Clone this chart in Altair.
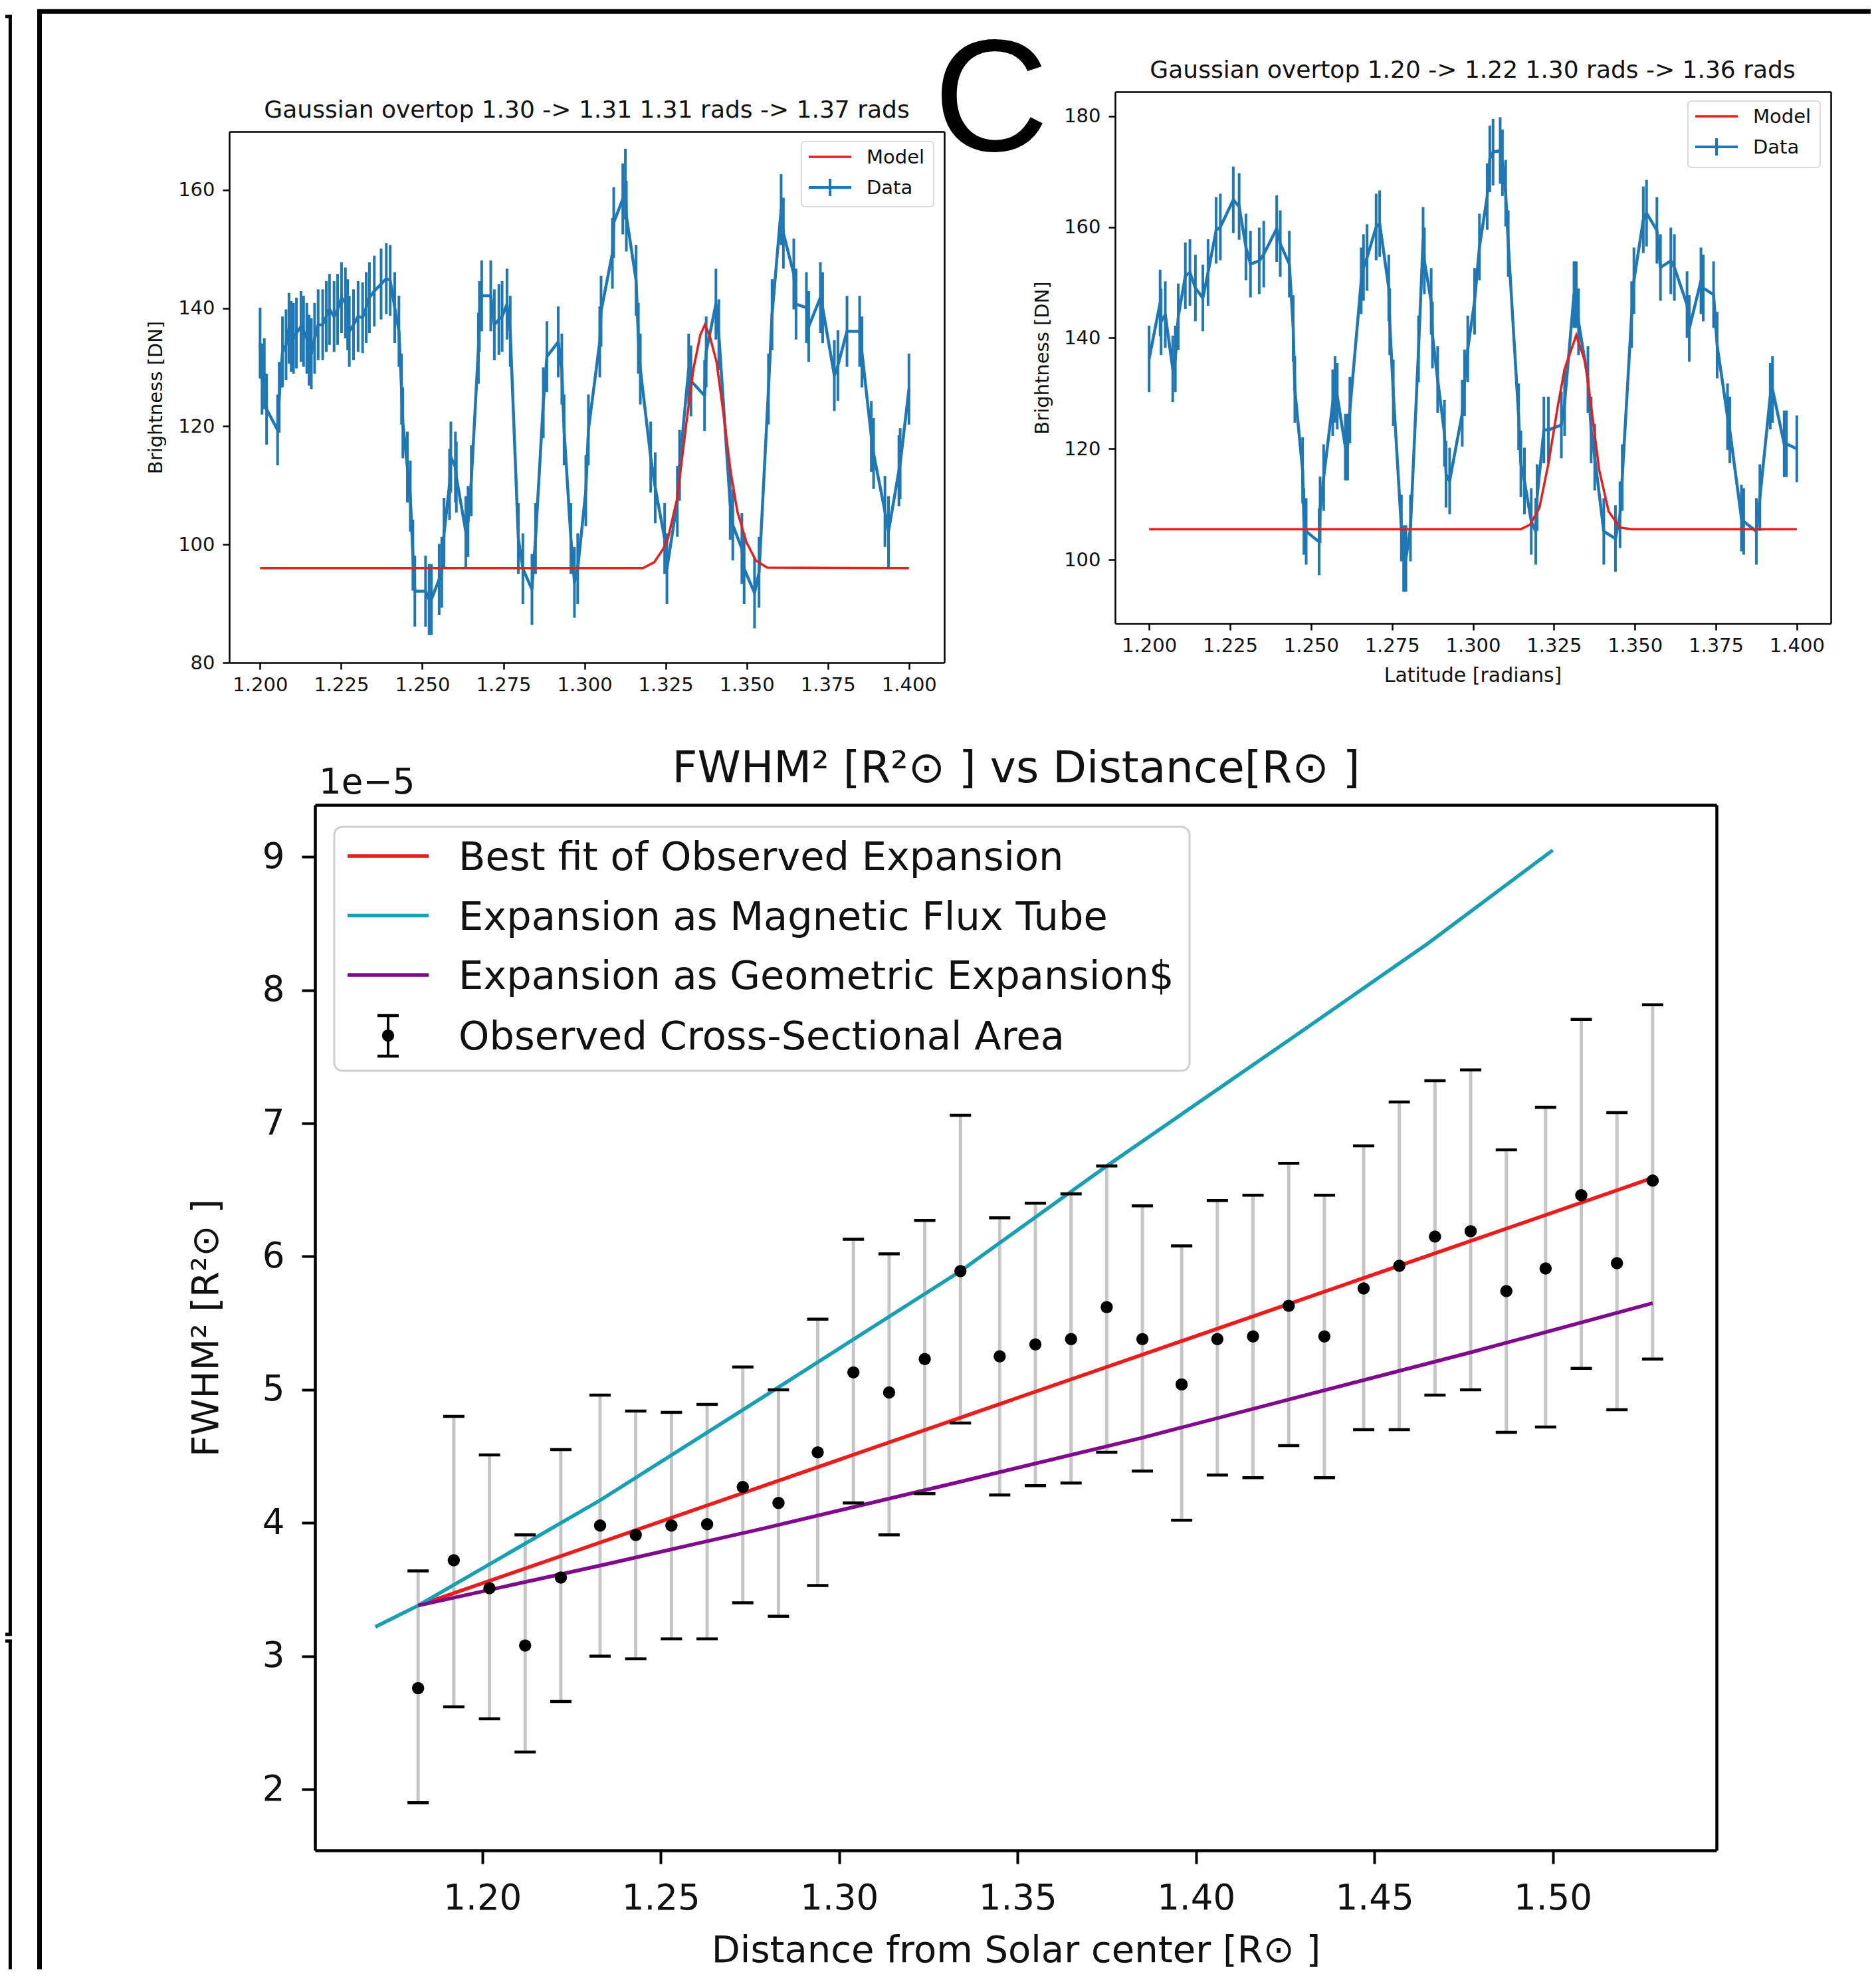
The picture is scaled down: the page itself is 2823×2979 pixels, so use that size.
import altair as alt
import pandas as pd

FONT = "DejaVu Sans"
BLUE = "#1f77b4"
RED = "#ea1c1c"
CYAN = "#179fb4"
PURPLE = "#800a8c"
GRAY = "#c6c6c6"
TXT = "#111111"

# ---------------- main panel: FWHM^2 (units of 1e-5 R_sun^2) vs distance ----------------
radius = [1.182, 1.192, 1.202, 1.212, 1.222, 1.233, 1.243, 1.253, 1.263, 1.273,
          1.283, 1.294, 1.304, 1.314, 1.324, 1.334, 1.345, 1.355, 1.365, 1.375,
          1.385, 1.396, 1.406, 1.416, 1.426, 1.436, 1.447, 1.457, 1.467, 1.477,
          1.487, 1.498, 1.508, 1.518, 1.528]
area = [2.76, 3.72, 3.51, 3.08, 3.59, 3.98, 3.91, 3.98, 3.99, 4.27,
        4.15, 4.53, 5.13, 4.98, 5.23, 5.89, 5.25, 5.34, 5.38, 5.62,
        5.38, 5.04, 5.38, 5.40, 5.63, 5.40, 5.76, 5.93, 6.15, 6.19,
        5.74, 5.91, 6.46, 5.95, 6.57]
area_hi = [3.64, 4.80, 4.51, 3.91, 4.55, 4.96, 4.84, 4.83, 4.89, 5.17,
           5.00, 5.53, 6.13, 6.02, 6.27, 7.06, 6.29, 6.40, 6.47, 6.68,
           6.38, 6.08, 6.42, 6.46, 6.70, 6.46, 6.83, 7.16, 7.32, 7.40,
           6.80, 7.12, 7.78, 7.08, 7.89]
area_lo = [1.90, 2.62, 2.53, 2.28, 2.66, 3.00, 2.98, 3.13, 3.13, 3.40,
           3.30, 3.53, 4.15, 3.91, 4.22, 4.75, 4.21, 4.28, 4.30, 4.53,
           4.39, 4.02, 4.36, 4.34, 4.58, 4.34, 4.70, 4.70, 4.96, 5.00,
           4.68, 4.72, 5.16, 4.85, 5.23]
fit_r = [1.182, 1.528]
fit_a = [3.38, 6.59]
flux_r = [1.170, 1.182, 1.233, 1.279, 1.334, 1.375, 1.428, 1.465, 1.500]
flux_a = [3.22, 3.38, 4.17, 4.95, 5.89, 6.68, 7.66, 8.35, 9.05]
geom_r = [1.182, 1.233, 1.279, 1.334, 1.385, 1.428, 1.477, 1.528]
geom_a = [3.38, 3.68, 3.96, 4.31, 4.64, 4.94, 5.28, 5.65]
main_labels = ["Best fit of Observed Expansion", "Expansion as Magnetic Flux Tube",
               "Expansion as Geometric Expansion$", "Observed Cross-Sectional Area"]
main_xticks = [1.20, 1.25, 1.30, 1.35, 1.40, 1.45, 1.50]
main_yticks = [2, 3, 4, 5, 6, 7, 8, 9]

# ---------------- top-left panel ----------------
lat_a = [1.2000, 1.2006, 1.2013, 1.2020, 1.2054, 1.2059, 1.2069, 1.2080, 1.2089, 1.2096,
         1.2103, 1.2112, 1.2126, 1.2134, 1.2144, 1.2151, 1.2158, 1.2168, 1.2179, 1.2193,
         1.2204, 1.2214, 1.2228, 1.2239, 1.2251, 1.2263, 1.2270, 1.2275, 1.2288, 1.2302,
         1.2316, 1.2327, 1.2337, 1.2352, 1.2373, 1.2389, 1.2401, 1.2415, 1.2428, 1.2436,
         1.2440, 1.2454, 1.2463, 1.2471, 1.2477, 1.2510, 1.2521, 1.2528, 1.2552, 1.2560,
         1.2567, 1.2584, 1.2588, 1.2602, 1.2605, 1.2634, 1.2641, 1.2651, 1.2673, 1.2676,
         1.2683, 1.2711, 1.2722, 1.2736, 1.2746, 1.2761, 1.2771, 1.2796, 1.2810, 1.2838,
         1.2849, 1.2873, 1.2884, 1.2919, 1.2930, 1.2937, 1.2958, 1.2969, 1.2979, 1.3004,
         1.3012, 1.3047, 1.3051, 1.3086, 1.3090, 1.3118, 1.3126, 1.3129, 1.3159, 1.3166,
         1.3172, 1.3204, 1.3218, 1.3247, 1.3254, 1.3286, 1.3293, 1.3321, 1.3328, 1.3370,
         1.3375, 1.3405, 1.3414, 1.3449, 1.3457, 1.3485, 1.3492, 1.3524, 1.3538, 1.3567,
         1.3578, 1.3606, 1.3613, 1.3645, 1.3652, 1.3684, 1.3691, 1.3727, 1.3734, 1.3770,
         1.3781, 1.3809, 1.3848, 1.3855, 1.3884, 1.3891, 1.3926, 1.3937, 1.3969, 1.3973,
         1.4000]
bright_a = [134.1, 128.0, 128.9, 122.9, 119.4, 124.9, 132.6, 133.8, 136.6, 135.2,
            134.9, 135.8, 136.9, 136.1, 134.9, 132.9, 132.3, 134.9, 137.2, 137.2,
            138.6, 139.8, 138.6, 139.8, 141.8, 140.9, 138.9, 136.1, 137.2, 138.6,
            138.4, 140.1, 141.8, 142.9, 144.1, 145.0, 144.7, 140.1, 136.1, 126.3,
            120.6, 113.1, 108.2, 98.2, 92.1, 92.1, 90.7, 90.7, 94.1, 95.3,
            101.9, 110.2, 114.8, 113.1, 111.4, 102.2, 103.9, 110.8, 133.2, 138.6,
            142.1, 142.1, 137.2, 138.1, 138.6, 140.7, 136.1, 101.0, 95.9, 92.4,
            101.0, 124.0, 131.8, 134.3, 129.7, 119.4, 101.0, 93.6, 95.9, 109.1,
            119.4, 134.3, 139.5, 149.3, 154.5, 158.5, 161.0, 155.6, 144.7, 134.9,
            129.7, 114.8, 109.6, 101.0, 95.9, 107.3, 113.4, 129.7, 127.7, 125.2,
            132.6, 140.7, 135.5, 106.8, 103.3, 99.3, 95.9, 91.8, 95.3, 126.3,
            138.9, 156.7, 152.7, 145.8, 140.7, 140.1, 136.9, 141.8, 140.1, 128.6,
            130.3, 136.1, 136.1, 132.6, 118.3, 115.4, 105.6, 102.2, 112.5, 113.7,
            126.3]
err_a = 6.0
model_lat_a = [1.2000, 1.3180, 1.3215, 1.3243, 1.3257, 1.3286, 1.3314, 1.3336, 1.3357, 1.3371,
               1.3385, 1.3407, 1.3428, 1.3450, 1.3471, 1.3499, 1.3528, 1.3563, 1.4000]
model_a = [96.0, 96.0, 97.0, 99.3, 101.0, 107.9, 120.6, 129.8, 135.5, 137.2,
           135.5, 130.9, 122.3, 112.5, 105.6, 100.4, 97.3, 96.1, 96.0]

# ---------------- top-right panel ----------------
lat_b = [1.2000, 1.2034, 1.2037, 1.2050, 1.2073, 1.2081, 1.2090, 1.2112, 1.2126, 1.2143,
         1.2166, 1.2182, 1.2207, 1.2220, 1.2260, 1.2278, 1.2299, 1.2313, 1.2340, 1.2354,
         1.2394, 1.2405, 1.2433, 1.2445, 1.2450, 1.2474, 1.2478, 1.2485, 1.2525, 1.2528,
         1.2539, 1.2567, 1.2574, 1.2581, 1.2606, 1.2613, 1.2620, 1.2655, 1.2662, 1.2673,
         1.2701, 1.2712, 1.2740, 1.2743, 1.2754, 1.2779, 1.2786, 1.2793, 1.2807, 1.2832,
         1.2846, 1.2850, 1.2871, 1.2875, 1.2891, 1.2912, 1.2917, 1.2928, 1.2967, 1.2974,
         1.2984, 1.3005, 1.3020, 1.3044, 1.3052, 1.3062, 1.3084, 1.3091, 1.3101, 1.3109,
         1.3141, 1.3148, 1.3159, 1.3180, 1.3194, 1.3198, 1.3219, 1.3233, 1.3273, 1.3283,
         1.3312, 1.3319, 1.3326, 1.3355, 1.3365, 1.3376, 1.3404, 1.3440, 1.3454, 1.3461,
         1.3490, 1.3497, 1.3526, 1.3536, 1.3568, 1.3579, 1.3611, 1.3622, 1.3661, 1.3668,
         1.3704, 1.3711, 1.3743, 1.3754, 1.3786, 1.3793, 1.3829, 1.3836, 1.3875, 1.3886,
         1.3918, 1.3925, 1.3961, 1.3968, 1.4000]
bright_b = [136.2, 146.3, 142.9, 144.2, 134.4, 136.2, 143.8, 151.2, 151.8, 149.0,
            147.2, 151.8, 159.4, 160.0, 164.9, 163.7, 156.4, 153.3, 153.9, 155.1,
            159.7, 157.0, 153.3, 141.7, 130.7, 116.1, 106.9, 105.1, 103.2, 109.0,
            114.8, 128.3, 130.7, 129.5, 120.3, 120.3, 127.0, 150.3, 152.7, 154.5,
            160.0, 160.6, 149.0, 142.9, 130.1, 105.7, 100.2, 100.2, 105.7, 138.0,
            157.6, 153.9, 146.6, 140.5, 132.5, 122.8, 115.4, 114.2, 126.4, 131.9,
            138.0, 146.6, 156.4, 165.5, 172.3, 173.5, 173.8, 171.6, 166.1, 157.0,
            125.8, 117.3, 114.2, 106.9, 105.1, 111.2, 123.4, 123.4, 124.3, 128.3,
            147.8, 147.8, 142.9, 132.5, 123.4, 118.5, 105.1, 103.8, 108.1, 114.8,
            144.2, 150.3, 161.3, 162.5, 159.4, 152.7, 153.9, 152.7, 146.0, 141.7,
            150.3, 149.0, 147.8, 138.7, 125.8, 123.4, 107.5, 106.9, 105.1, 111.2,
            129.5, 130.7, 120.9, 120.9, 120.0]
err_b = 6.0
model_lat_b = [1.2000, 1.3148, 1.3176, 1.3205, 1.3233, 1.3262, 1.3283, 1.3319, 1.3347, 1.3369,
               1.3390, 1.3419, 1.3454, 1.3490, 1.4000]
model_b = [105.5, 105.5, 106.3, 109.3, 117.3, 127.7, 134.4, 140.5, 135.6, 125.8,
           116.1, 108.7, 105.8, 105.5, 105.5]
top_xticks = [1.200, 1.225, 1.250, 1.275, 1.300, 1.325, 1.350, 1.375, 1.400]
left_yticks = [80, 100, 120, 140, 160]
right_yticks = [100, 120, 140, 160, 180]

# ---------------- canvas ----------------
W, H = 2807, 2955
ONE = pd.DataFrame({"k": [0]})


def vtext(txt, x, y, size, align="left", baseline="middle", font=FONT, color=TXT):
    return alt.Chart(ONE).mark_text(align=align, baseline=baseline, font=font,
                                    fontSize=size, color=color).encode(
        x=alt.value(x), y=alt.value(y), text=alt.value(txt))


def hrule(x, x2, y, color="black", width=2.0):
    return alt.Chart(ONE).mark_rule(color=color, strokeWidth=width).encode(
        x=alt.value(x), x2=alt.value(x2), y=alt.value(y))


def vrule(x, y, y2, color="black", width=2.0):
    return alt.Chart(ONE).mark_rule(color=color, strokeWidth=width).encode(
        x=alt.value(x), y=alt.value(y), y2=alt.value(y2))


def box(x, y, x2, y2, sw, radius):
    return alt.Chart(ONE).mark_rect(fill="white", fillOpacity=0.85, stroke="#cfcfcf",
                                    strokeWidth=sw, cornerRadius=radius).encode(
        x=alt.value(x), x2=alt.value(x2), y=alt.value(y), y2=alt.value(y2))


def axis(orient, offset, **kw):
    base = dict(orient=orient, offset=offset, grid=False, domainColor="black",
                tickColor="black", labelColor=TXT, labelFont=FONT, titleFont=FONT,
                titleColor=TXT, titleFontWeight="normal", labelOverlap=False,
                labelFlush=False)
    base.update(kw)
    return alt.Axis(**base)


def spine(orient, offset, width):
    return alt.Axis(orient=orient, offset=offset, labels=False, ticks=False, grid=False,
                    title=None, domainColor="black", domainWidth=width)


layers = []

# decorative figure frames
layers += [
    hrule(48, W, 9.2, width=7), vrule(51.5, 6, H, width=7),
    hrule(0, 10, 16.8, width=5), vrule(7.4, 14.5, 2453, width=5),
    hrule(0, 10, 2451, width=5), hrule(0, 10, 2461, width=5), vrule(7.4, 2459, H, width=5),
]

# ---------- top-left panel ----------
XA = alt.Scale(domain=[1.1905, 1.4109], range=[337, 1413], nice=False, zero=False)
YA = alt.Scale(domain=[80, 169.9], range=[989, 190], nice=False, zero=False)
dfa = pd.DataFrame({"lat": lat_a, "b": bright_a})
dfa["lo"] = dfa["b"] - err_a
dfa["hi"] = dfa["b"] + err_a
dfma = pd.DataFrame({"lat": model_lat_a, "m": model_a})
ax_top_x = dict(values=top_xticks, format=".3f", labelFontSize=29, labelPadding=9,
                tickSize=10, tickWidth=2.5, domainWidth=2.5)
layers.append(alt.Chart(dfa).mark_rule(color=BLUE, strokeWidth=4).encode(
    x=alt.X("lat:Q", scale=XA, axis=axis("bottom", 989 - H, title=None, **ax_top_x)),
    y=alt.Y("lo:Q", scale=YA, axis=axis("left", -337, values=left_yticks, format="d",
                                          labelFontSize=29, labelPadding=12, tickSize=10,
                                          tickWidth=2.5, domainWidth=2.5,
                                          title="Brightness [DN]", titleFontSize=29,
                                          titleX=-111, titleY=589.5, titleAngle=270,
                                          titleAlign="center", titleBaseline="middle")),
    y2="hi:Q"))
layers.append(alt.Chart(dfa).mark_line(color=BLUE, strokeWidth=4.5, strokeJoin="round").encode(
    x=alt.X("lat:Q", scale=XA, axis=spine("top", -190, 2.5)),
    y=alt.Y("b:Q", scale=YA, axis=spine("right", 1413 - W, 2.5))))
layers.append(alt.Chart(dfma).mark_line(color=RED, strokeWidth=3.5).encode(
    x=alt.X("lat:Q", scale=XA, axis=None), y=alt.Y("m:Q", scale=YA, axis=None)))

# ---------- top-right panel ----------
XB = alt.Scale(domain=[1.1895, 1.4105], range=[1670, 2747], nice=False, zero=False)
YB = alt.Scale(domain=[88.5, 184.4], range=[930, 130], nice=False, zero=False)
dfb = pd.DataFrame({"lat": lat_b, "b": bright_b})
dfb["lo"] = dfb["b"] - err_b
dfb["hi"] = dfb["b"] + err_b
dfmb = pd.DataFrame({"lat": model_lat_b, "m": model_b})
layers.append(alt.Chart(dfb).mark_rule(color=BLUE, strokeWidth=4).encode(
    x=alt.X("lat:Q", scale=XB, axis=axis("bottom", 930 - H, title="Latitude [radians]",
                                          titleFontSize=30, titleX=2208, titleY=78,
                                          titleAlign="center", titleBaseline="middle",
                                          **ax_top_x)),
    y=alt.Y("lo:Q", scale=YB, axis=axis("left", -1670, values=right_yticks, format="d",
                                          labelFontSize=29, labelPadding=12, tickSize=10,
                                          tickWidth=2.5, domainWidth=2.5,
                                          title="Brightness [DN]", titleFontSize=29,
                                          titleX=-110, titleY=530, titleAngle=270,
                                          titleAlign="center", titleBaseline="middle")),
    y2="hi:Q"))
layers.append(alt.Chart(dfb).mark_line(color=BLUE, strokeWidth=4.5, strokeJoin="round").encode(
    x=alt.X("lat:Q", scale=XB, axis=spine("top", -130, 2.5)),
    y=alt.Y("b:Q", scale=YB, axis=spine("right", 2747 - W, 2.5))))
layers.append(alt.Chart(dfmb).mark_line(color=RED, strokeWidth=3.5).encode(
    x=alt.X("lat:Q", scale=XB, axis=None), y=alt.Y("m:Q", scale=YB, axis=None)))

# ---------- main panel ----------
XM = alt.Scale(domain=[1.1531, 1.5459], range=[466, 2575], nice=False, zero=False)
YM = alt.Scale(domain=[1.542, 9.39], range=[2776, 1203], nice=False, zero=False)
dfm = pd.DataFrame({"r": radius, "a": area, "hi": area_hi, "lo": area_lo})
dfcaps = pd.DataFrame({"r": radius + radius, "v": area_hi + area_lo})
dffit = pd.DataFrame({"r": fit_r, "a": fit_a})
dfflux = pd.DataFrame({"r": flux_r, "a": flux_a})
dfgeom = pd.DataFrame({"r": geom_r, "a": geom_a})

layers.append(alt.Chart(dfm).mark_rule(color=GRAY, strokeWidth=5).encode(
    x=alt.X("r:Q", scale=XM, axis=axis("bottom", 2776 - H, values=main_xticks, format=".2f",
                                        labelFontSize=53, labelPadding=26, tickSize=20,
                                        tickWidth=4, domainWidth=4.5,
                                        title="Distance from Solar center [R⊙ ]",
                                        titleFontSize=56, titleX=1520.5, titleY=150,
                                        titleAlign="center", titleBaseline="middle")),
    y=alt.Y("lo:Q", scale=YM, axis=axis("left", -466, values=main_yticks, format="d",
                                         labelFontSize=53, labelPadding=26, tickSize=20,
                                         tickWidth=4, domainWidth=4.5,
                                         title="FWHM² [R²⊙ ]", titleFontSize=56,
                                         titleX=-164, titleY=1989.5, titleAngle=270,
                                         titleAlign="center", titleBaseline="middle")),
    y2="hi:Q"))
for d, c in [(dffit, RED), (dfflux, CYAN), (dfgeom, PURPLE)]:
    layers.append(alt.Chart(d).mark_line(color=c, strokeWidth=5.5).encode(
        x=alt.X("r:Q", scale=XM, axis=None), y=alt.Y("a:Q", scale=YM, axis=None)))
layers.append(alt.Chart(dfcaps).mark_tick(orient="horizontal", size=32, thickness=4.5,
                                          color="black", opacity=1).encode(
    x=alt.X("r:Q", scale=XM, axis=spine("top", -1203, 4.5)),
    y=alt.Y("v:Q", scale=YM, axis=spine("right", 2575 - W, 4.5))))
layers.append(alt.Chart(dfm).mark_circle(size=340, color="black", opacity=1).encode(
    x=alt.X("r:Q", scale=XM, axis=None), y=alt.Y("a:Q", scale=YM, axis=None)))

# ---------- legends ----------
# main legend
layers.append(box(495, 1236, 1782, 1603, 3, 12))
rows = [1280, 1369.5, 1459, 1550]
for yy, c in zip(rows[:3], [RED, CYAN, PURPLE]):
    layers.append(hrule(515, 637, yy, color=c, width=5.5))
layers += [vrule(576, 1520, 1581, color="black", width=4),
           hrule(560, 592, 1520, width=4.5), hrule(560, 592, 1581, width=4.5),
           alt.Chart(ONE).mark_circle(size=340, color="black", opacity=1).encode(
               x=alt.value(576), y=alt.value(1550))]
for yy, lab in zip(rows, main_labels):
    layers.append(vtext(lab, 682, yy + 3, 59))

# top-left legend
layers.append(box(1198, 205, 1397, 303, 1.5, 5))
layers += [hrule(1209, 1273, 228, color=RED, width=3.5),
           hrule(1209, 1273, 274, color=BLUE, width=4),
           vrule(1241, 261, 287, color=BLUE, width=4),
           vtext("Model", 1296, 229, 29), vtext("Data", 1296, 275, 29)]
# top-right legend
layers.append(box(2532, 144, 2731, 244, 1.5, 5))
layers += [hrule(2543, 2607, 167, color=RED, width=3.5),
           hrule(2543, 2607, 213, color=BLUE, width=4),
           vrule(2575, 200, 226, color=BLUE, width=4),
           vtext("Model", 2630, 168, 29), vtext("Data", 2630, 214, 29)]

# ---------- titles and annotations ----------
layers += [
    vtext("Gaussian overtop 1.30 -> 1.31 1.31 rads -> 1.37 rads", 875, 158, 36, align="center"),
    vtext("Gaussian overtop 1.20 -> 1.22 1.30 rads -> 1.36 rads", 2208, 98, 36, align="center"),
    vtext("FWHM² [R²⊙ ] vs Distance[R⊙ ]", 1521, 1149, 66, align="center"),
    vtext("1e−5", 472, 1170, 53),
    vtext("C", 1483.5, 219, 240, align="center", baseline="alphabetic",
          font="Liberation Sans", color="black"),
]

chart = alt.layer(*layers).resolve_scale(
    x="independent", y="independent"
).resolve_axis(
    x="independent", y="independent"
).properties(
    width=W, height=H, autosize=alt.AutoSizeParams(type="none"), padding=0,
    background="white"
).configure_view(strokeWidth=0)

chart.save("out.html", embed_options={"renderer": "svg", "actions": False})
